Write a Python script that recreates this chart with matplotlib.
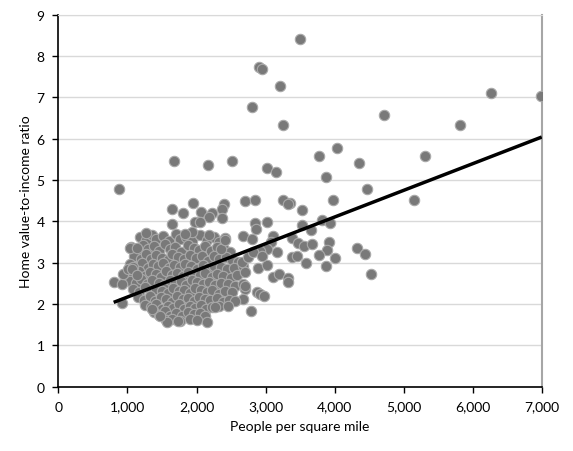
import matplotlib
matplotlib.use("Agg")
import matplotlib.pyplot as plt

# Sparse / outlying points (people per sq mile, ratio)
outer_x = [3499, 2905, 2953, 3214, 2804, 3248, 4712, 6267, 6996, 5813, 4031, 3775, 5315, 4350,
           3021, 3147, 3876, 4475, 5151, 3982, 2707, 2847, 3253, 3354, 3325, 3524, 3026, 2847,
           2857, 3813, 3934, 3524, 3654, 2669, 2799, 3113, 3075, 3379, 3475, 3557, 3669, 3924,
           3886, 3170, 3017, 2920, 4321, 4441, 3779, 4006, 3388, 3460, 3586, 3872, 4524, 2678,
           2702, 2895, 3026, 3113, 3200, 3321, 3321, 2872, 2920, 2978, 2678, 2702, 2669, 2785,
           2654, 2750, 2818,
           1674, 881, 1649, 1808, 1953, 1649, 1268, 2162, 2509, 2065, 2220, 2181, 2402, 2373,
           2373, 1978, 2050, 1930, 1833, 2181, 2413, 2944, 2702, 2557, 2460, 2268, 2147, 2355,
           2413, 1036, 1133, 804, 916, 920, 930, 1011, 1084, 1568, 1736, 1350, 1471, 1061, 1133]
outer_y = [8.40, 7.74, 7.68, 7.27, 6.77, 6.33, 6.57, 7.11, 7.04, 6.33, 5.78, 5.59, 5.58, 5.40,
           5.30, 5.20, 5.07, 4.78, 4.51, 4.52, 4.49, 4.51, 4.52, 4.44, 4.41, 4.28, 3.99, 3.96,
           3.82, 4.04, 3.96, 3.90, 3.80, 3.65, 3.57, 3.64, 3.49, 3.59, 3.48, 3.41, 3.44, 3.51,
           3.31, 3.25, 3.33, 3.29, 3.35, 3.21, 3.19, 3.11, 3.14, 3.17, 2.99, 2.91, 2.73, 2.93,
           2.78, 2.86, 2.94, 2.65, 2.73, 2.62, 2.53, 2.30, 2.24, 2.20, 2.48, 2.36, 2.12, 1.84,
           3.01, 3.13, 3.26,
           5.45, 4.79, 4.29, 4.20, 4.44, 3.93, 3.73, 5.36, 5.47, 4.23, 4.20, 4.10, 4.41, 4.30,
           4.07, 3.98, 3.99, 3.74, 3.69, 3.67, 3.59, 3.15, 2.44, 2.08, 1.96, 1.92, 1.56, 3.33,
           3.55, 3.36, 3.36, 2.54, 2.48, 2.02, 2.73, 2.85, 2.89, 1.56, 1.58, 1.88, 1.72, 2.85, 2.69]

# Dense cluster points (estimated)
dense_x = [1180, 1270, 1350, 1420, 1520, 1600, 1700, 1760, 1850, 1930, 2050, 2150, 2250, 2330,
           1050, 1150, 1230, 1300, 1380, 1460, 1540, 1620, 1690, 1780, 1870, 1960, 2040, 2120, 2210, 2290, 2400, 2480,
           1100, 1190, 1270, 1340, 1420, 1500, 1580, 1650, 1730, 1820, 1900, 1990, 2080, 2160, 2250, 2330, 2420, 2520, 2600,
           1040, 1130, 1210, 1290, 1370, 1440, 1520, 1600, 1680, 1760, 1840, 1920, 2000, 2090, 2170, 2260, 2350, 2440, 2550,
           1000, 1080, 1160, 1250, 1330, 1410, 1490, 1560, 1640, 1720, 1800, 1880, 1960, 2050, 2130, 2220, 2300, 2390, 2500, 2590,
           1030, 1120, 1200, 1280, 1360, 1450, 1530, 1610, 1690, 1770, 1850, 1930, 2010, 2100, 2180, 2270, 2360, 2450, 2560,
           1080, 1170, 1250, 1340, 1420, 1500, 1580, 1660, 1740, 1820, 1900, 1980, 2060, 2150, 2230, 2320, 2410, 2520,
           1150, 1240, 1320, 1400, 1480, 1560, 1640, 1720, 1800, 1880, 1960, 2040, 2120, 2200, 2290, 2380, 2470,
           1260, 1340, 1420, 1500, 1580, 1660, 1740, 1820, 1900, 1980, 2060, 2140, 2220, 2330,
           1380, 1460, 1540, 1620, 1700, 1790, 1880, 1960, 2050, 2130,
           1560, 1640, 1760, 1900, 2000]
dense_y = [3.62, 3.55, 3.68, 3.58, 3.64, 3.52, 3.70, 3.57, 3.63, 3.53, 3.66, 3.56, 3.61, 3.50,
           3.38, 3.30, 3.42, 3.34, 3.40, 3.28, 3.44, 3.33, 3.39, 3.27, 3.43, 3.35, 3.30, 3.41, 3.29, 3.37, 3.32, 3.26,
           3.16, 3.10, 3.20, 3.08, 3.18, 3.12, 3.06, 3.21, 3.14, 3.09, 3.19, 3.11, 3.15, 3.05, 3.17, 3.10, 3.13, 3.07, 3.02,
           2.96, 2.90, 3.00, 2.88, 2.97, 2.92, 2.99, 2.86, 2.94, 2.89, 2.98, 2.91, 2.85, 2.95, 2.87, 2.93, 2.90, 2.84, 2.88,
           2.76, 2.70, 2.80, 2.68, 2.77, 2.72, 2.66, 2.79, 2.71, 2.75, 2.67, 2.78, 2.73, 2.69, 2.74, 2.65, 2.72, 2.68, 2.63, 2.70,
           2.56, 2.50, 2.60, 2.48, 2.57, 2.52, 2.46, 2.59, 2.51, 2.55, 2.47, 2.58, 2.53, 2.49, 2.54, 2.45, 2.52, 2.48, 2.44,
           2.36, 2.30, 2.40, 2.28, 2.37, 2.32, 2.26, 2.39, 2.31, 2.35, 2.27, 2.38, 2.33, 2.29, 2.34, 2.25, 2.31, 2.28,
           2.16, 2.10, 2.20, 2.08, 2.17, 2.12, 2.06, 2.19, 2.11, 2.15, 2.07, 2.18, 2.13, 2.09, 2.14, 2.05, 2.10,
           1.98, 1.92, 2.00, 1.89, 1.96, 1.91, 1.99, 1.88, 1.95, 1.90, 1.97, 1.87, 1.93, 1.94,
           1.80, 1.74, 1.82, 1.70, 1.78, 1.72, 1.81, 1.75, 1.79, 1.71,
           1.62, 1.64, 1.60, 1.63, 1.61]

# Trend line end points
trend_x = [800, 7000]
trend_y = [2.04, 6.04]

x_ticks = [0, 1000, 2000, 3000, 4000, 5000, 6000, 7000]
x_tick_labels = ["0", "1,000", "2,000", "3,000", "4,000", "5,000", "6,000", "7,000"]
y_ticks = list(range(0, 10))

plt.rcParams['font.family'] = ['Lato', 'DejaVu Sans']

fig = plt.figure(figsize=(5.73, 4.52), dpi=100)
ax = fig.add_axes([0.102, 0.1423, 0.8434, 0.823])

ax.scatter(dense_x + outer_x, dense_y + outer_y, s=56, facecolor='#797979',
           edgecolor='#a9a9a9', linewidth=0.8, zorder=3)
ax.plot(trend_x, trend_y, color='black', linewidth=2.5, zorder=4, solid_capstyle='butt')

ax.set_xlim(0, 7000)
ax.set_ylim(0, 9)
ax.set_xticks(x_ticks)
ax.set_xticklabels(x_tick_labels)
ax.set_yticks(y_ticks)
ax.yaxis.grid(True, color='#d9d9d9', linewidth=1)
ax.set_axisbelow(True)

for s in ['left', 'bottom']:
    ax.spines[s].set_color('black')
    ax.spines[s].set_linewidth(1.2)
ax.spines['top'].set_color('#d9d9d9')
ax.spines['right'].set_color('#a6a6a6')
ax.spines['right'].set_linewidth(1.5)

ax.tick_params(axis='both', direction='out', length=4, width=1, color='black',
               labelsize=10, pad=6)
ax.set_xlabel("People per square mile", fontsize=10, labelpad=5)
ax.set_ylabel("Home value-to-income ratio", fontsize=10, labelpad=3)

fig.savefig("out.png", dpi=100)
